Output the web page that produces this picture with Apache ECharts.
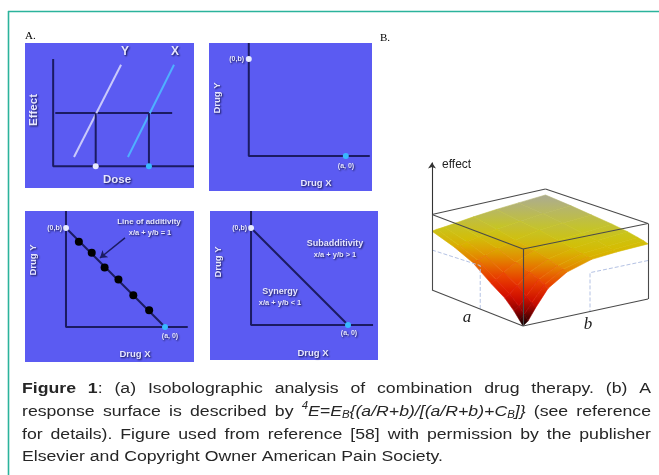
<!DOCTYPE html>
<html><head><meta charset="utf-8">
<script src="https://cdn.jsdelivr.net/npm/echarts@6/dist/echarts.min.js"></script>
<style>html,body{margin:0;padding:0;background:#fff}#c{width:659px;height:475px}</style>
</head><body><div id="c"></div><script>
// ---------- Panel 1: dose-effect curves ----------
const p1Axes = [[0, 7.4], [0, 0], [10, 0]];
const p1EffectLevel = [[0.15, 3.67], [8.45, 3.67]];
const p1CurveY = [[1.48, 0.64], [4.82, 7.0]];
const p1CurveX = [[5.31, 0.64], [8.58, 7.0]];
const p1DropY = [[3.02, 3.67], [3.02, 0]];
const p1DropX = [[6.8, 3.67], [6.8, 0]];
const p1DoseY = [[3.02, 0]];
const p1DoseX = [[6.8, 0]];
// ---------- Panel 2: iso-effective doses ----------
const p2Axes = [[0, 1.165], [0, 0], [1.247, 0]];
const p2PointB = [[0, 1]];
const p2PointA = [[1, 0]];
// ---------- Panel 3: line of additivity ----------
const p3Axes = [[0, 1.172], [0, 0], [1.23, 0]];
const p3Additivity = [[0, 1], [1, 0]];
const p3Combos = [[0.13, 0.86], [0.26, 0.75], [0.39, 0.60], [0.53, 0.48], [0.68, 0.32], [0.84, 0.17]];
const p3Pointer = [[0.596, 0.9], [0.343, 0.697]];
const p3PointB = [[0, 1]];
const p3PointA = [[1, 0]];
// ---------- Panel 4: synergy / subadditivity ----------
const p4Axes = [[0, 1.175], [0, 0], [1.258, 0]];
const p4Additivity = [[0, 1], [1, 0]];
const p4PointB = [[0, 1]];
const p4PointA = [[1, 0]];
// ---------- Panel B: response surface (dose a, dose b, effect) ----------
const aGrid = [0, 0.04, 0.1, 0.2, 0.35, 0.55, 0.75, 1.0];
const bGrid = [0, 0.04, 0.1, 0.2, 0.35, 0.55, 0.75, 1.0];
const effectSurface = [
  [0.00, 0.05, 0.20, 0.42, 0.58, 0.68, 0.71, 0.73],
  [0.06, 0.12, 0.25, 0.45, 0.60, 0.69, 0.72, 0.75],
  [0.15, 0.20, 0.31, 0.49, 0.62, 0.71, 0.74, 0.77],
  [0.27, 0.31, 0.40, 0.54, 0.66, 0.73, 0.77, 0.80],
  [0.39, 0.43, 0.50, 0.60, 0.70, 0.77, 0.80, 0.83],
  [0.57, 0.59, 0.63, 0.69, 0.75, 0.81, 0.84, 0.86],
  [0.68, 0.69, 0.72, 0.75, 0.80, 0.84, 0.87, 0.89],
  [0.78, 0.79, 0.80, 0.82, 0.85, 0.88, 0.90, 0.92]
];
const boxEdges = [
  [[0,0,0],[1,0,0]], [[0,0,0],[0,1,0]], [[0,0,0],[0,0,1]],
  [[1,0,0],[1,0,1]], [[0,1,0],[0,1,1]],
  [[0,0,1],[1,0,1]], [[0,0,1],[0,1,1]], [[1,0,1],[1,1,1]], [[0,1,1],[1,1,1]]
];
const effectAxis = [[1,0,1],[1,0,1.69]];
const isoLeft = [[1,0,0.53],[0.47,0,0.57],[0.47,0,0]];
const isoRight = [[0,1,0.51],[0,0.536,0.51],[0,0.536,0]];

// ---------- styles ----------
const PANEL_BG = '#5b5bf2';
const NAVY = '#1b1b62';
// oblique projection with a little depth shrink toward the back corner
const proj = (a, b, e) => {
  const s = 1 - 0.06 * a * b;
  return [-0.91 * a + 1.25 * b * s - 0.04 * a * b, 0.36 * a + 0.27 * b + 0.77 * e * (1 - 0.02 * (a + b))];
};

const stops = [
  [0.00, [0, 0, 0]], [0.08, [80, 0, 0]], [0.20, [190, 0, 0]], [0.35, [228, 24, 0]],
  [0.50, [236, 78, 0]], [0.62, [228, 140, 0]], [0.72, [214, 188, 0]], [0.80, [200, 198, 28]],
  [0.87, [186, 186, 90]], [0.93, [168, 168, 158]]
];
function cmap(v) {
  if (v <= stops[0][0]) return stops[0][1];
  for (let k = 1; k < stops.length; k++) {
    if (v <= stops[k][0]) {
      const t = (v - stops[k-1][0]) / (stops[k][0] - stops[k-1][0]);
      return stops[k-1][1].map((c, i) => Math.round(c + t * (stops[k][1][i] - c)));
    }
  }
  return stops[stops.length - 1][1];
}
const rgb = c => 'rgb(' + c.join(',') + ')';

function poly(k, data, color, width, z, type) {
  return {type: 'line', xAxisIndex: k, yAxisIndex: k, data, symbol: 'none', silent: true,
    lineStyle: {color, width, type: type || 'solid'}, z: z || 2, animation: false};
}
function dots(k, data, color, size, border) {
  return {type: 'scatter', xAxisIndex: k, yAxisIndex: k, data, symbol: 'circle', symbolSize: size, silent: true,
    itemStyle: {color, borderColor: border || color, borderWidth: border ? 1 : 0, opacity: 1}, z: 6, animation: false};
}

const quads = [];
for (let i = 0; i < aGrid.length - 1; i++)
  for (let j = 0; j < bGrid.length - 1; j++) quads.push([i, j]);
quads.sort((p, q) => (q[0] + q[1]) - (p[0] + p[1]));

const series = [
  // panel 1
  poly(0, p1Axes, NAVY, 2),
  poly(0, p1EffectLevel, NAVY, 2),
  poly(0, p1CurveY, '#c9c9fb', 2),
  poly(0, p1CurveX, '#4fb0ff', 2),
  poly(0, p1DropY, NAVY, 2),
  poly(0, p1DropX, NAVY, 2),
  dots(0, p1DoseY, '#e8ecff', 6),
  dots(0, p1DoseX, '#38b8ff', 6),
  // panel 2
  poly(1, p2Axes, NAVY, 2),
  dots(1, p2PointB, '#e8ecff', 6),
  dots(1, p2PointA, '#38b8ff', 6),
  // panel 3
  poly(2, p3Axes, NAVY, 2),
  poly(2, p3Additivity, NAVY, 2),
  dots(2, p3Combos, '#000000', 8),
  dots(2, p3PointB, '#e8ecff', 6),
  dots(2, p3PointA, '#38b8ff', 6),
  {type: 'lines', coordinateSystem: 'cartesian2d', xAxisIndex: 2, yAxisIndex: 2, silent: true, animation: false,
    data: [{coords: p3Pointer}], symbol: ['none', 'arrow'], symbolSize: 7,
    lineStyle: {color: NAVY, width: 1.5, opacity: 1}, z: 5},
  // panel 4
  poly(3, p4Axes, NAVY, 2),
  poly(3, p4Additivity, NAVY, 2),
  dots(3, p4PointB, '#e8ecff', 6),
  dots(3, p4PointA, '#38b8ff', 6),
  // panel B surface
  {type: 'custom', xAxisIndex: 4, yAxisIndex: 4, coordinateSystem: 'cartesian2d', silent: true, animation: false,
    data: quads, z: 3,
    renderItem: function (params, api) {
      const i = api.value(0), j = api.value(1);
      const corners = [[i, j], [i + 1, j], [i + 1, j + 1], [i, j + 1]];
      const pts = corners.map(c => api.coord(proj(aGrid[c[0]], bGrid[c[1]], effectSurface[c[0]][c[1]])));
      const es = corners.map(c => effectSurface[c[0]][c[1]]);
      const hi = Math.max.apply(null, es), lo = Math.min.apply(null, es);
      const avg = es.reduce((s, v) => s + v, 0) / 4;
      return {type: 'polygon', shape: {points: pts},
        style: {fill: new echarts.graphic.LinearGradient(0, 0, 0, 1, [
          {offset: 0, color: rgb(cmap(hi))}, {offset: 1, color: rgb(cmap(lo))}]),
          stroke: rgb(cmap(avg)), lineWidth: 0.6}};
    }},
  poly(4, isoLeft.map(p => proj(p[0], p[1], p[2])), '#b4c2e4', 1, 8, 'dashed'),
  poly(4, isoRight.map(p => proj(p[0], p[1], p[2])), '#b4c2e4', 1, 8, 'dashed'),
  {type: 'lines', coordinateSystem: 'cartesian2d', xAxisIndex: 4, yAxisIndex: 4, silent: true, animation: false,
    data: boxEdges.map(e => ({coords: e.map(p => proj(p[0], p[1], p[2]))})), symbol: ['none', 'none'],
    lineStyle: {color: '#4a4a4a', width: 1.1, opacity: 1}, z: 10},
  {type: 'lines', coordinateSystem: 'cartesian2d', xAxisIndex: 4, yAxisIndex: 4, silent: true, animation: false,
    data: [{coords: effectAxis.map(p => proj(p[0], p[1], p[2]))}], symbol: ['none', 'arrow'], symbolSize: 6,
    lineStyle: {color: '#333', width: 1.1, opacity: 1}, z: 10}
];

// ---------- text ----------
const SH = {textShadowColor: 'rgba(12,12,60,0.95)', textShadowBlur: 2, textShadowOffsetX: 1, textShadowOffsetY: 1};
function txt(x, y, text, font, opt) {
  opt = opt || {};
  return {type: 'text', x, y, rotation: opt.rot || 0, scaleX: opt.sx || 1, z: 100, silent: true,
    style: Object.assign({text, font, fill: opt.fill || '#000', textAlign: opt.align || 'center',
      textVerticalAlign: opt.valign || 'middle'}, opt.shadow ? SH : {})};
}
const PF = s => 'bold ' + s + 'px "Liberation Sans"';
const W = {fill: '#e6e6ff', shadow: true};
const R = Math.PI / 2;
const graphics = [
  {type: 'line', shape: {x1: 8, y1: 11.5, x2: 659, y2: 11.5}, style: {stroke: '#2bb39c', lineWidth: 1.6}, z: 100},
  {type: 'line', shape: {x1: 8.5, y1: 11, x2: 8.5, y2: 475}, style: {stroke: '#2bb39c', lineWidth: 1.6}, z: 100},
  txt(25, 36, 'A.', '11px "Liberation Serif"', {align: 'left'}),
  txt(380, 38, 'B.', '11px "Liberation Serif"', {align: 'left'}),
  // panel 1
  txt(125, 52, 'Y', PF(12), W), txt(175, 52, 'X', PF(12), W),
  txt(34, 110, 'Effect', PF(11.5), Object.assign({rot: R}, W)),
  txt(117, 180, 'Dose', PF(11.5), W),
  // panel 2
  txt(244, 59, '(0,b)', PF(7), Object.assign({align: 'right'}, W)),
  txt(346, 166, '(a, 0)', PF(7), W),
  txt(217, 98, 'Drug Y', PF(9.5), Object.assign({rot: R}, W)),
  txt(316, 183, 'Drug X', PF(9.5), W),
  // panel 3
  txt(62, 228, '(0,b)', PF(7), Object.assign({align: 'right'}, W)),
  txt(149, 222, 'Line of additivity', PF(8), W),
  txt(150, 233, 'x/a + y/b = 1', PF(7.5), W),
  txt(170, 336, '(a, 0)', PF(7), W),
  txt(33, 260, 'Drug Y', PF(9.5), Object.assign({rot: R}, W)),
  txt(135, 354, 'Drug X', PF(9.5), W),
  // panel 4
  txt(247, 228, '(0,b)', PF(7), Object.assign({align: 'right'}, W)),
  txt(349, 333, '(a, 0)', PF(7), W),
  txt(335, 244, 'Subadditivity', PF(9), W),
  txt(335, 255, 'x/a + y/b > 1', PF(7.5), W),
  txt(280, 292, 'Synergy', PF(9), W),
  txt(280, 303, 'x/a + y/b < 1', PF(7.5), W),
  txt(218, 262, 'Drug Y', PF(9.5), Object.assign({rot: R}, W)),
  txt(313, 353, 'Drug X', PF(9.5), W),
  // panel B
  txt(442, 165, 'effect', '12px "Liberation Sans"', {align: 'left', fill: '#222'}),
  txt(467, 318, 'a', 'italic 17px "Liberation Serif"', {fill: '#222'}),
  txt(588, 325, 'b', 'italic 17px "Liberation Serif"', {fill: '#222'})
];

// ---------- caption ----------
const CAP = 15.5, CAPS = 10, CAP_L = 22, CAP_R = 651, CAP_SX = 1.14;
const capLines = [
  [[['Figure', 'b']], [['1', 'b'], [':', 'n']], '(a)', 'Isobolographic', 'analysis', 'of', 'combination', 'drug', 'therapy.', '(b)', 'A'],
  ['response', 'surface', 'is', 'described', 'by',
    [['4', 'sup'], ['E=E', 'i'], ['B', 'sub'], ['{(a/R+b)/[(a/R+b)+C', 'i'], ['B', 'sub'], [']}', 'i']], '(see', 'reference'],
  'for details). Figure used from reference [58] with permission by the publisher'.split(' '),
  'Elsevier and Copyright Owner American Pain Society.'.split(' ')
];
const capY = [389, 411.7, 434.4, 457];
const ctx = document.createElement('canvas').getContext('2d');
function fontFor(s) {
  const it = (s === 'i' || s === 'sup' || s === 'sub') ? 'italic ' : '';
  const b = s === 'b' ? 'bold ' : '';
  const size = (s === 'sup' || s === 'sub') ? CAPS : CAP;
  return it + b + size + 'px "Liberation Sans"';
}
function meas(t, s) { ctx.font = fontFor(s); return ctx.measureText(t).width * CAP_SX; }
capLines.forEach((line, li) => {
  const words = line.map(w => typeof w === 'string' ? [[w, 'n']] : w);
  const widths = words.map(w => w.reduce((s, seg) => s + meas(seg[0], seg[1]), 0));
  const total = widths.reduce((s, v) => s + v, 0);
  const justify = li < capLines.length - 1;
  const gap = justify ? (CAP_R - CAP_L - total) / (words.length - 1) : meas(' ', 'n');
  let x = CAP_L;
  words.forEach((w) => {
    w.forEach(seg => {
      const dy = seg[1] === 'sup' ? -5 : seg[1] === 'sub' ? 4 : 0;
      graphics.push(txt(x, capY[li] + dy, seg[0], fontFor(seg[1]), {align: 'left', fill: '#262626', sx: CAP_SX}));
      x += meas(seg[0], seg[1]);
    });
    x += gap;
  });
});

const axisCfg = [
  [-2, 10, -1.5, 8.5], [-0.41, 1.27, -0.36, 1.165], [-0.414, 1.293, -0.354, 1.172],
  [-0.423, 1.309, -0.361, 1.175], [-1.0, 1.35, -0.1, 1.7]
];
const chart = echarts.init(document.getElementById('c'), null, {renderer: 'canvas'});
chart.setOption({
  animation: false,
  backgroundColor: '#ffffff',
  grid: [
    {left: 25, top: 43, width: 169, height: 145, show: true, backgroundColor: PANEL_BG, borderWidth: 0},
    {left: 209, top: 43, width: 163, height: 148, show: true, backgroundColor: PANEL_BG, borderWidth: 0},
    {left: 25, top: 211, width: 169, height: 151, show: true, backgroundColor: PANEL_BG, borderWidth: 0},
    {left: 210, top: 211, width: 168, height: 149, show: true, backgroundColor: PANEL_BG, borderWidth: 0},
    {left: 423, top: 156, width: 235, height: 180, show: false}
  ],
  xAxis: axisCfg.map((c, k) => ({gridIndex: k, type: 'value', min: c[0], max: c[1], show: false})),
  yAxis: axisCfg.map((c, k) => ({gridIndex: k, type: 'value', min: c[2], max: c[3], show: false})),
  series: series,
  graphic: graphics
});
</script></body></html>
